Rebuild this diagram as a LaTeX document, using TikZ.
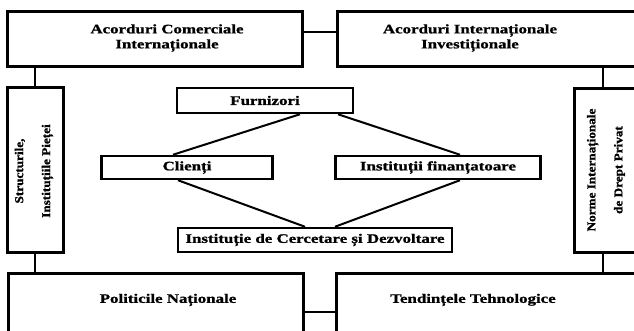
\documentclass[tikz,border=0pt]{standalone}
\usepackage{fontspec}
\setmainfont{Liberation Serif}
\newfontfamily\wfont[FakeStretch=1.3,FakeBold=1.2]{Liberation Serif}
\newfontfamily\rfont[FakeStretch=1.1,FakeBold=1.2]{Liberation Serif}
\usetikzlibrary{calc}
\tikzset{
  bigbox/.style={draw, line width=3pt, inner sep=0pt},
  midbox/.style={draw, line width=2.5pt, inner sep=0pt, font=\wfont\bfseries\fontsize{13}{15}\selectfont},
  lbl/.style={align=center, inner sep=0pt, font=\wfont\bfseries\fontsize{13}{15}\selectfont},
  vlbl/.style={rotate=90, align=center, inner sep=0pt, font=\rfont\bfseries\fontsize{12}{27}\selectfont},
  conn/.style={line width=2.5pt},
  diag/.style={line width=2pt}
}
\begin{document}
\begin{tikzpicture}[x=1pt, y=-1pt]
\useasboundingbox (0,0) rectangle (634,331);
\clip (0,0) rectangle (634,331);
% outer boxes
\node[bigbox, minimum width=295pt, minimum height=55pt] (tl) at (154.5,39.5) {};
\node[bigbox, minimum width=308pt, minimum height=55pt] (tr) at (491,39.5) {};
\node[bigbox, minimum width=56pt, minimum height=164pt] (lm) at (35,170) {};
\node[bigbox, minimum width=71pt, minimum height=163pt] (rm) at (609.5,170.5) {};
\node[bigbox, minimum width=295pt, minimum height=72pt] (bl) at (155.5,309) {};
\node[bigbox, minimum width=309pt, minimum height=72pt] (br) at (490.5,309) {};
% outer labels
\node[lbl] (tlt) at (167,38) {Acorduri Comerciale\\Internaționale};
\node[lbl] (trt) at (470,38) {Acorduri Internaționale\\Investiționale};
\node[vlbl] (lmt) at (34,171) {Structurile,\\Instituțiile Pieței};
\node[vlbl] (rmt) at (606,170) {Norme Internaționale\\de Drept Privat};
\node[lbl] (blt) at (168,300) {Politicile Naționale};
\node[lbl] (brt) at (473,300) {Tendințele Tehnologice};
% middle boxes
\node[midbox, minimum width=176pt, minimum height=25pt] (furn) at (265,100.5) {Furnizori};
\node[midbox, minimum width=171pt, minimum height=23pt] (cli) at (187,167.5) {Clienți};
\node[midbox, minimum width=205pt, minimum height=23pt] (fin) at (438,167.5) {Instituții finanțatoare};
\node[midbox, minimum width=274pt, minimum height=24pt] (cd) at (315,240) {Instituție de Cercetare și Dezvoltare};
% connectors between outer boxes
\draw[conn] ([yshift=7.5pt]tl.east) -- ([yshift=7.5pt]tr.west);
\draw[conn] ([yshift=-3pt]bl.east) -- ([yshift=-3pt]br.west);
\draw[conn] (lm.north) -- (lm.north |- tl.south);
\draw[conn] (lm.south) -- (lm.south |- bl.north);
\coordinate (rmt1) at ($(rm.north)+(-6.5,0)$);
\coordinate (rmb1) at ($(rm.south)+(-6.5,0)$);
\draw[conn] (rmt1) -- (rmt1 |- tr.south);
\draw[conn] (rmb1) -- (rmb1 |- br.north);
% diagonal connectors
\draw[diag] ($(furn.south)+(35,0)$) -- ($(cli.north)+(-14,0)$);
\draw[diag] ($(furn.south)+(73,0)$) -- ($(fin.north)+(22,0)$);
\draw[diag] ($(cli.south)+(-9,0)$) -- ($(cd.north)+(-10,0)$);
\draw[diag] ($(fin.south)+(22,0)$) -- ($(cd.north)+(20,0)$);
\end{tikzpicture}
\end{document}
